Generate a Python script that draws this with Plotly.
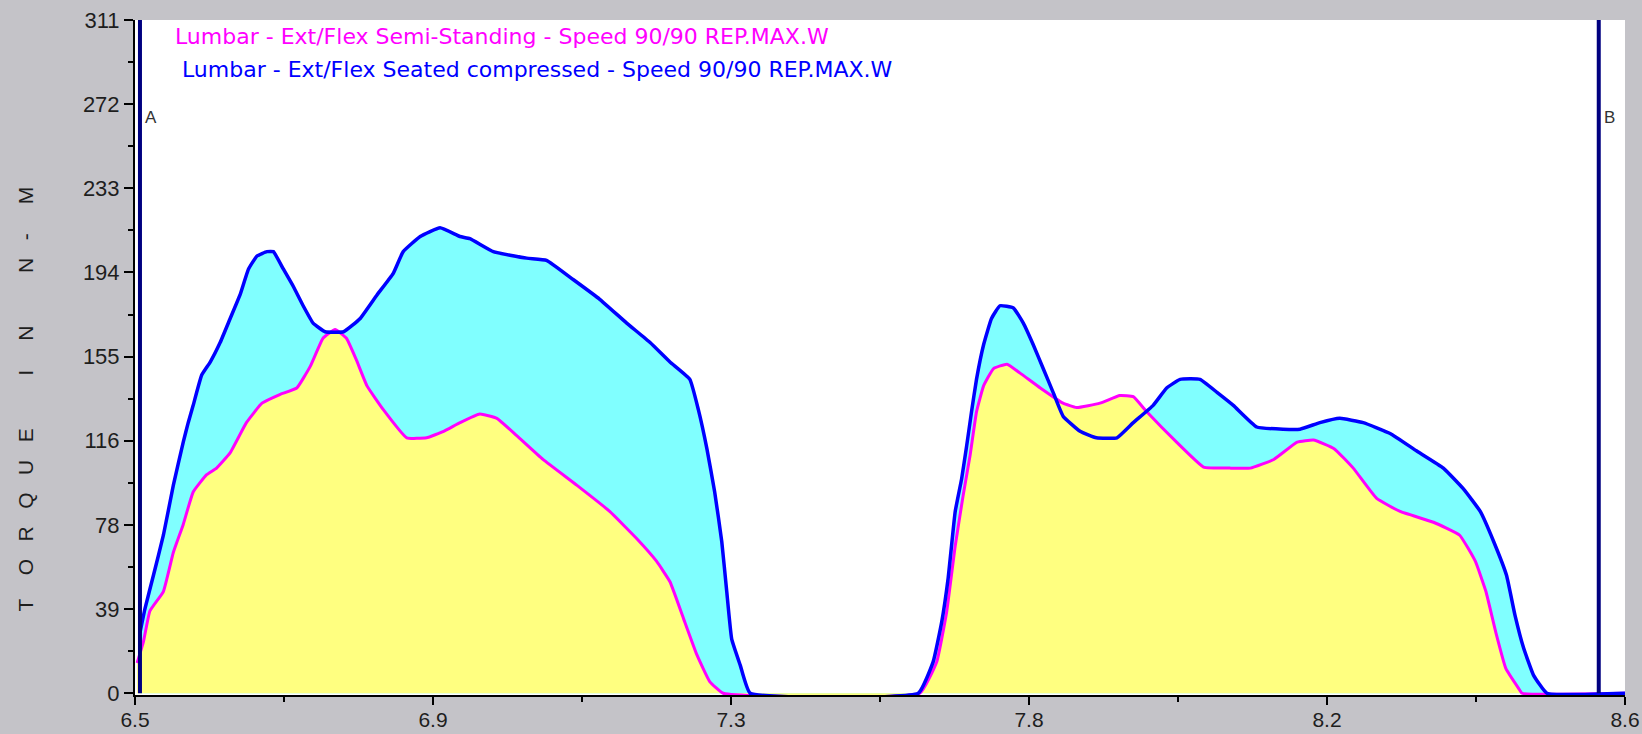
import plotly.graph_objects as go

# ---------------- data ----------------
x_tick_vals = [6.5, 6.92, 7.34, 7.76, 8.18, 8.6]
x_tick_text = ["6.5", "6.9", "7.3", "7.8", "8.2", "8.6"]
y_tick_vals = [0, 38.875, 77.75, 116.625, 155.5, 194.375, 233.25, 272.125, 311]
y_tick_text = ["0", "39", "78", "116", "155", "194", "233", "272", "311"]

seated_name = "Lumbar - Ext/Flex Seated compressed - Speed 90/90 REP.MAX.W"
seated_x = [6.507, 6.514, 6.526, 6.540, 6.554, 6.568, 6.575, 6.582, 6.594, 6.606, 6.620,
            6.634, 6.648, 6.660, 6.672, 6.686, 6.695, 6.709, 6.723, 6.737, 6.751, 6.768,
            6.794, 6.817, 6.841, 6.864, 6.878, 6.902, 6.930, 6.958, 6.972, 7.005, 7.052,
            7.080, 7.118, 7.155, 7.193, 7.226, 7.254, 7.282, 7.294, 7.306, 7.317, 7.327,
            7.334, 7.341, 7.353, 7.367, 7.604, 7.625, 7.637, 7.646, 7.656, 7.665, 7.672,
            7.679, 7.686, 7.696, 7.707, 7.719, 7.738, 7.752, 7.766, 7.780, 7.794, 7.808,
            7.832, 7.855, 7.884, 7.907, 7.935, 7.954, 7.973, 8.001, 8.025, 8.048, 8.081,
            8.118, 8.142, 8.170, 8.198, 8.231, 8.269, 8.306, 8.344, 8.372, 8.396, 8.415,
            8.433, 8.445, 8.457, 8.471, 8.490, 8.600]
seated_v = [28, 39, 54.5, 73, 96, 116, 125, 133, 147, 153, 162,
            173, 184, 196, 202, 204, 204, 196, 188, 179, 171, 167,
            167, 173, 184, 194, 204, 211, 215, 211, 210, 204, 201,
            200, 191, 182, 171, 162, 153, 145, 131, 113, 93, 70,
            47, 25, 13, 0, 0, 14.6, 33, 53, 84, 99, 114,
            130, 145, 161, 173, 179, 178, 171, 161, 150, 139, 128,
            121, 118, 118, 125, 133, 141, 145, 145, 139, 133, 123,
            122, 122, 125, 127, 125, 120, 112, 104, 94.5, 84, 70,
            54.5, 36, 21, 8.4, 0, 0]

standing_name = "Lumbar - Ext/Flex Semi-Standing - Speed 90/90 REP.MAX.W"
standing_x = [6.503, 6.512, 6.521, 6.540, 6.554, 6.568, 6.582, 6.601, 6.615, 6.634, 6.657,
              6.679, 6.704, 6.728, 6.747, 6.765, 6.782, 6.798, 6.812, 6.827, 6.850, 6.883,
              6.911, 6.935, 6.958, 6.986, 7.010, 7.038, 7.075, 7.123, 7.169, 7.207, 7.235,
              7.254, 7.273, 7.292, 7.310, 7.329, 7.606, 7.630, 7.644, 7.656, 7.667, 7.677,
              7.686, 7.696, 7.710, 7.729, 7.747, 7.776, 7.808, 7.827, 7.860, 7.888, 7.907,
              7.926, 7.968, 8.006, 8.043, 8.072, 8.105, 8.138, 8.161, 8.190, 8.217, 8.250,
              8.283, 8.330, 8.367, 8.389, 8.404, 8.418, 8.432, 8.450, 8.455, 8.600]
standing_v = [14, 24, 38, 47, 65, 78, 93, 101, 104, 111, 125,
              134, 138, 141, 151, 164, 168, 164, 154, 142, 131, 118,
              118, 121, 125, 129, 127, 119, 108, 96, 84, 71.5, 61,
              51.5, 34.6, 17.7, 5.4, 0, 0, 14.6, 37.7, 68, 91, 110,
              130, 142, 150, 152, 148, 141, 134, 132, 134, 137.5, 137,
              130, 116, 104.5, 104, 104, 108, 116, 117, 113, 104, 90,
              84, 79, 73, 61, 47, 28, 11.5, 2.3, 0, 0]

cursor_x = [6.507, 8.563]
cursor_labels = ["A", "B"]
cursor_label_y = 266

# ---------------- styles ----------------
BLUE = "#0000ff"
MAGENTA = "#ff00ff"
CYAN = "#80ffff"
YELLOW = "#ffff80"
NAVY = "#000080"
GRAY = "#c4c3c8"
Y_TICK_FONT = dict(family="Liberation Sans, Arial, sans-serif", size=22, color="#1e1e1e")
X_TICK_FONT = dict(family="Liberation Sans, Arial, sans-serif", size=21, color="#1e1e1e")
NB = "\u00a0"
SMOOTH = 0.35

fig = go.Figure()

# fills
fig.add_trace(go.Scatter(x=seated_x, y=seated_v, mode="lines", fill="tozeroy",
                         fillcolor=CYAN, line=dict(width=0, color=CYAN, shape="spline", smoothing=SMOOTH),
                         showlegend=False, hoverinfo="skip"))
fig.add_trace(go.Scatter(x=standing_x, y=standing_v, mode="lines", fill="tozeroy",
                         fillcolor=YELLOW, line=dict(width=0, color=YELLOW, shape="spline", smoothing=SMOOTH),
                         showlegend=False, hoverinfo="skip"))
# outlines
fig.add_trace(go.Scatter(x=standing_x, y=standing_v, mode="lines", name=standing_name,
                         line=dict(color=MAGENTA, width=3, shape="spline", smoothing=SMOOTH),
                         showlegend=False))
fig.add_trace(go.Scatter(x=seated_x, y=seated_v, mode="lines", name=seated_name,
                         line=dict(color=BLUE, width=3.5, shape="spline", smoothing=SMOOTH),
                         showlegend=False))

# cursors A / B
for cx, lab in zip(cursor_x, cursor_labels):
    fig.add_trace(go.Scatter(x=[cx, cx], y=[0, 311], mode="lines",
                             line=dict(color=NAVY, width=4), showlegend=False,
                             hoverinfo="skip", cliponaxis=False))
    fig.add_annotation(x=cx, y=cursor_label_y, xref="x", yref="y", text=lab,
                       showarrow=False, xanchor="left", xshift=3,
                       font=dict(family="Liberation Sans, Arial", size=17, color="#333333"))

# series labels (legend-like text)
fig.add_annotation(x=0.0255, y=0.976, xref="paper", yref="paper", text=standing_name,
                   showarrow=False, xanchor="left", yanchor="middle",
                   font=dict(family="DejaVu Sans", size=22, color=MAGENTA))
fig.add_annotation(x=0.030, y=0.927, xref="paper", yref="paper", text=seated_name,
                   showarrow=False, xanchor="left", yanchor="middle",
                   font=dict(family="DejaVu Sans", size=22, color=BLUE))

# y-axis title
ytitle = ("T" + NB * 4 + "O" + NB * 3 + "R" + NB * 3 + "Q" + NB * 3 + "U" + NB * 3 + "E"
          + NB * 9 + "I" + NB * 5 + "N" + NB * 9 + "N" + NB * 3 + "-" + NB * 5 + "M")
fig.add_annotation(x=-0.0738, y=0.438, xref="paper", yref="paper", text=ytitle,
                   showarrow=False, textangle=-90, xanchor="center", yanchor="middle",
                   font=dict(family="Liberation Sans, Arial", size=21, color="#1e1e1e"))

x_minor = [(a + b) / 2 for a, b in zip(x_tick_vals[:-1], x_tick_vals[1:])]
y_minor = [(a + b) / 2 for a, b in zip(y_tick_vals[:-1], y_tick_vals[1:])]

fig.update_xaxes(range=[6.5, 8.6], tickmode="array", tickvals=x_tick_vals,
                 ticktext=x_tick_text, ticks="outside", ticklen=8, tickwidth=2,
                 tickcolor="black", showline=True, linecolor="black", linewidth=2,
                 showgrid=False, zeroline=False, tickfont=X_TICK_FONT, automargin=False,
                 ticklabelstandoff=-3,
                 minor=dict(tickmode="array", tickvals=x_minor, ticks="outside",
                            ticklen=5, tickwidth=2, tickcolor="black", showgrid=False))
fig.update_yaxes(range=[-0.8, 311], tickmode="array", tickvals=y_tick_vals,
                 ticktext=y_tick_text, ticks="outside", ticklen=9, tickwidth=2,
                 tickcolor="black", showline=True, linecolor="black", linewidth=2,
                 showgrid=False, zeroline=False, tickfont=Y_TICK_FONT, automargin=False,
                 minor=dict(tickmode="array", tickvals=y_minor, ticks="outside",
                            ticklen=5, tickwidth=2, tickcolor="black", showgrid=False))

fig.update_layout(width=1642, height=734, paper_bgcolor=GRAY, plot_bgcolor="white",
                  margin=dict(l=135, r=17, t=20, b=39, autoexpand=False), showlegend=False)

fig.write_html("out.html")
